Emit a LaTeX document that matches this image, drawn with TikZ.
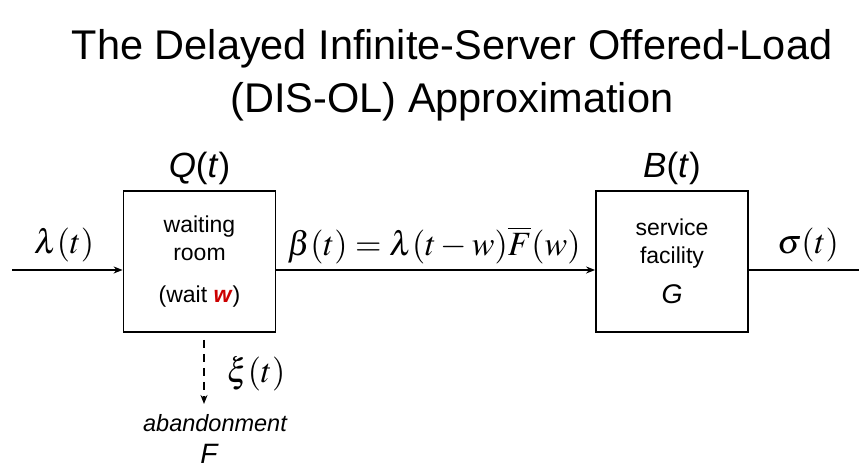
\documentclass[tikz,border=0pt]{standalone}
\usepackage{mathptmx}
\usepackage{fontspec}
\setmainfont{Liberation Sans}
\usetikzlibrary{arrows.meta,positioning}

\tikzset{
  stagebox/.style={draw, line width=1.8pt, minimum width=152pt, minimum height=141pt,
    align=center, font=\fontsize{23}{28}\selectfont},
  flow/.style={line width=2pt, -{Stealth[length=9pt,width=7pt]}},
  rate/.style={font=\fontsize{34}{36}\selectfont},
  count/.style={font=\fontsize{35}{38}\selectfont}
}

\begin{document}
\begin{tikzpicture}[x=1pt,y=1pt]
  \useasboundingbox (0,0) rectangle (859,470);

  % title
  \node[font=\fontsize{41.5}{53}\selectfont, align=center] (title) at (452,395)
    {The Delayed Infinite-Server Offered-Load\\(DIS-OL) Approximation};

  % the two stations
  \node[stagebox] (wait) at (199.5,208.5)
    {waiting\\room\\[14pt](wait \textcolor{red!80!black}{\textbf{\textit{w}}})};
  \node[stagebox] (serv) at (672,208.5)
    {service\\facility\\[12pt]{\fontsize{27}{28}\selectfont\textit{G}}};

  \node[count, above=2pt of wait] (Q) {\textit{Q}(\textit{t})};
  \node[count, above=2pt of serv] (B) {\textit{B}(\textit{t})};

  % flows in and out, a little below the middle of the boxes
  \coordinate (inL) at (12,200);
  \coordinate (outR) at (859,200);
  \draw[flow] (inL) -- (inL -| wait.west);
  \draw[flow] (inL -| wait.east) -- (inL -| serv.west);
  \draw[line width=2pt] (inL -| serv.east) -- (outR);

  \node[rate] (lam) at (64,225) {$\lambda(t)$};
  \node[rate] (beta) at (434,225) {$\beta(t)=\lambda(t-w)\overline{F}(w)$};
  \node[rate] (sig) at (808,225) {$\sigma(t)$};

  % abandonment
  \coordinate (abTop) at (204,130);
  \coordinate (abEnd) at (204,66);
  \draw[flow, line width=1.6pt, dash pattern=on 8pt off 6pt] (abTop) -- (abEnd);
  \node[rate] (xi) at (256,96) {$\xi(t)$};
  \node[font=\fontsize{23.5}{26}\selectfont\itshape] (aband) at (215,47) {abandonment};
  \node[font=\fontsize{28}{30}\selectfont\itshape, anchor=base, inner sep=1pt] (Fdist) at (209,6) {F};
\end{tikzpicture}
\end{document}
